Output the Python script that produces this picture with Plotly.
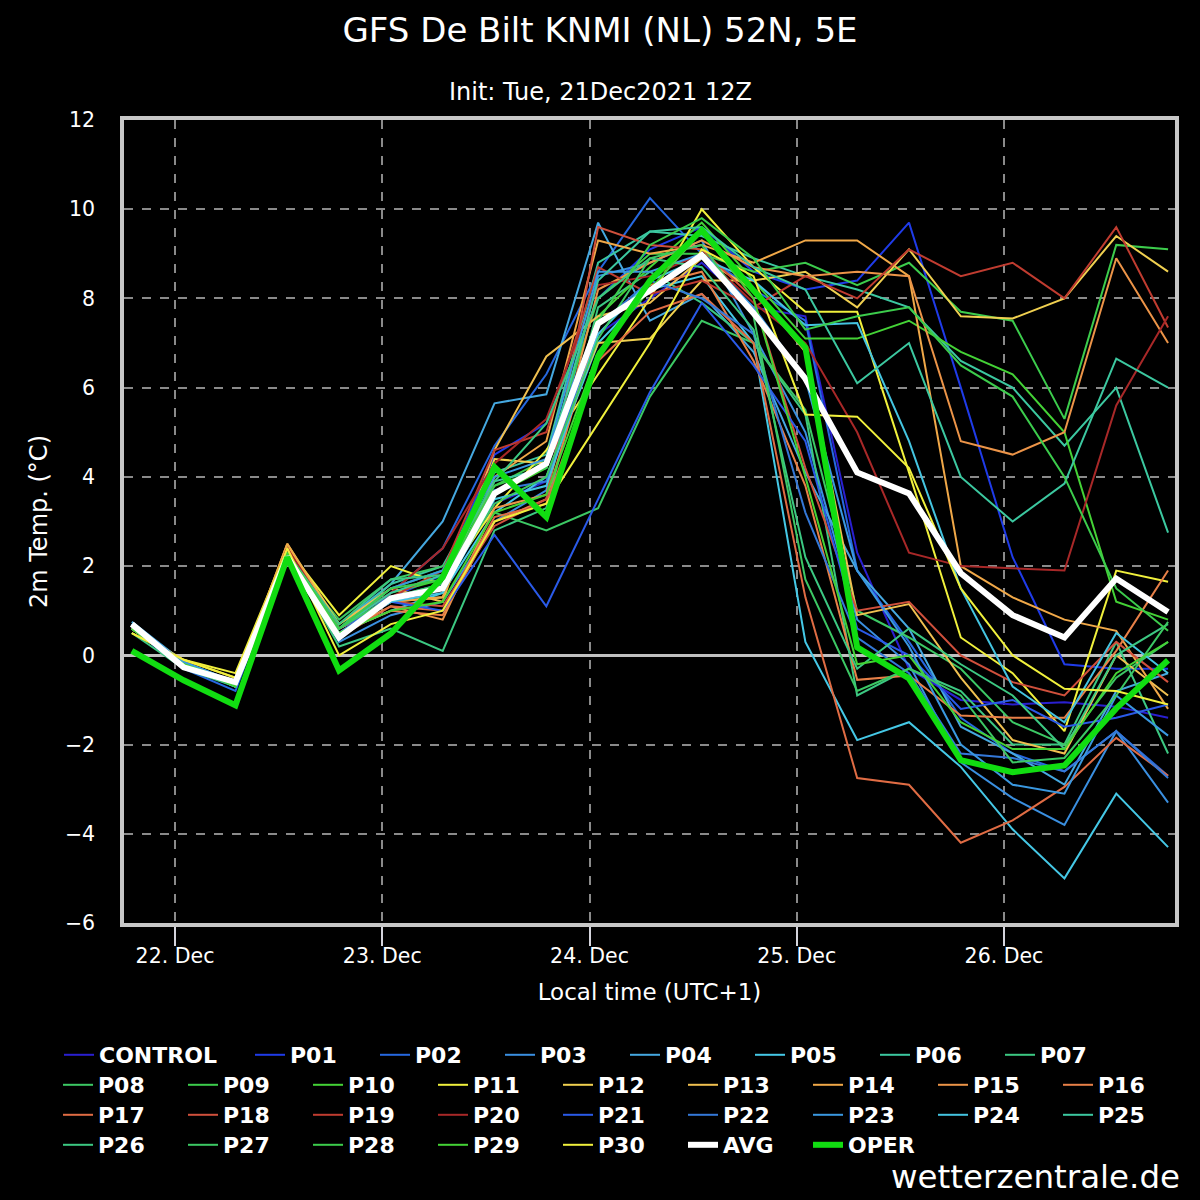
import plotly.graph_objects as go

# --- time axis (local time, UTC+1), 6-hourly ---
times = [
    "2021-12-21 19:00", "2021-12-22 01:00", "2021-12-22 07:00", "2021-12-22 13:00",
    "2021-12-22 19:00", "2021-12-23 01:00", "2021-12-23 07:00", "2021-12-23 13:00",
    "2021-12-23 19:00", "2021-12-24 01:00", "2021-12-24 07:00", "2021-12-24 13:00",
    "2021-12-24 19:00", "2021-12-25 01:00", "2021-12-25 07:00", "2021-12-25 13:00",
    "2021-12-25 19:00", "2021-12-26 01:00", "2021-12-26 07:00", "2021-12-26 13:00",
    "2021-12-26 19:00",
]

# --- ensemble members, 2m temperature (degC) ---
control = [0.7, -0.2, -0.7, 2.3, 0.5, 1.2, 1.5, 3.4, 3.9, 7.2, 8.0, 8.8, 7.8, 7.6, 2.3, -0.3, -1.0, -1.1, -1.05, -1.15, -1.4]
p01 = [0.7, -0.2, -0.6, 2.4, 0.6, 1.3, 1.8, 4.5, 5.2, 8.0, 9.1, 9.6, 8.6, 8.2, 8.4, 9.7, 6.0, 2.2, -0.2, -0.3, -0.3]
p02 = [0.6, -0.3, -0.8, 2.3, 0.4, 1.4, 2.4, 4.7, 6.3, 8.6, 10.25, 9.0, 8.2, 7.5, 1.9, 0.3, -1.4, -2.2, -2.6, -1.7, -2.7]
p03 = [0.7, -0.2, -0.7, 2.3, 0.3, 0.9, 1.2, 3.0, 3.7, 8.5, 8.8, 9.3, 7.2, 5.0, 0.8, -0.2, -2.4, -3.2, -3.8, -1.7, -3.3]
p04 = [0.75, -0.15, -0.6, 2.4, 0.7, 1.6, 3.0, 5.65, 5.85, 9.7, 7.5, 8.1, 6.8, 4.1, 1.9, 0.6, -1.6, -2.2, -2.9, -0.8, -0.4]
p05 = [0.6, -0.25, -0.7, 2.3, 0.5, 1.0, 1.4, 3.2, 4.0, 7.0, 8.2, 8.5, 7.0, 0.3, -1.9, -1.5, -2.5, -3.9, -5.0, -3.1, -4.3]
p06 = [0.6, -0.2, -0.6, 2.2, 0.6, 1.6, 2.0, 4.1, 4.5, 8.8, 9.5, 9.4, 8.9, 8.5, 8.2, 7.8, 6.6, 6.0, 4.7, 6.0, 2.75]
p07 = [0.5, -0.3, -0.7, 2.3, 0.2, 0.6, 0.1, 2.8, 3.3, 7.8, 8.6, 7.9, 7.0, 5.4, -0.9, -0.3, -0.8, -2.0, -2.0, 0.3, -2.2]
p08 = [0.6, -0.2, -0.6, 2.2, 0.8, 1.7, 2.0, 3.2, 2.8, 3.3, 5.8, 7.5, 7.0, 5.5, 1.0, 0.4, -0.3, -1.5, -2.0, -0.5, 0.3]
p09 = [0.6, -0.2, -0.7, 2.3, 0.6, 1.5, 1.9, 3.8, 4.4, 8.0, 9.0, 9.0, 8.6, 8.8, 8.3, 8.8, 7.7, 7.5, 5.3, 9.2, 9.1]
p10 = [0.65, -0.2, -0.6, 2.4, 0.7, 1.4, 1.7, 3.6, 4.2, 7.6, 8.7, 9.7, 8.4, 7.1, 7.1, 7.5, 6.8, 6.3, 5.0, 1.2, 0.8]
p11 = [0.5, -0.1, -0.4, 2.4, 0.9, 2.0, 1.6, 3.3, 4.6, 6.3, 8.0, 10.0, 8.7, 7.7, 7.7, 4.1, 0.4, -0.4, -1.7, 1.9, 1.65]
p12 = [0.6, -0.1, -0.5, 2.4, 0.6, 1.2, 1.3, 4.4, 4.3, 7.0, 7.1, 8.4, 8.4, 8.6, 7.8, 9.1, 7.6, 7.55, 8.0, 9.4, 8.6]
p13 = [0.6, -0.2, -0.6, 2.5, 0.7, 1.5, 1.2, 4.6, 6.7, 7.6, 7.9, 8.9, 8.2, 6.8, 0.9, 1.15, -0.5, -1.9, -2.2, 0.0, -0.9]
p14 = [0.6, -0.2, -0.6, 2.5, 0.6, 1.2, 1.3, 4.0, 4.8, 9.3, 9.0, 9.2, 8.8, 9.3, 9.3, 8.5, 2.0, 1.3, 0.8, 0.55, -1.2]
p15 = [0.6, -0.2, -0.6, 2.4, 0.5, 1.1, 0.8, 3.3, 3.6, 8.2, 8.8, 9.3, 8.7, 8.5, 8.6, 8.5, 4.8, 4.5, 5.0, 8.9, 7.0]
p16 = [0.6, -0.2, -0.6, 2.4, 0.5, 1.0, 0.9, 3.0, 3.5, 7.4, 8.3, 8.6, 6.6, 3.8, -0.55, -0.45, -1.35, -1.4, -1.4, 0.1, 1.9]
p17 = [0.6, -0.2, -0.6, 2.4, 0.4, 1.1, 1.0, 3.1, 3.4, 6.6, 7.7, 8.1, 7.0, 1.3, -2.75, -2.9, -4.2, -3.7, -2.95, -1.85, -2.7]
p18 = [0.6, -0.2, -0.6, 2.4, 0.5, 1.2, 1.1, 2.9, 3.5, 9.6, 9.2, 9.1, 8.0, 4.2, 1.0, 1.2, 0.0, -0.6, -0.9, 0.3, -0.6]
p19 = [0.6, -0.2, -0.6, 2.4, 0.5, 1.3, 1.9, 4.6, 5.0, 8.7, 8.1, 8.4, 7.8, 8.5, 8.0, 9.1, 8.5, 8.8, 8.0, 9.6, 7.35]
p20 = [0.6, -0.2, -0.6, 2.4, 0.6, 1.4, 2.4, 4.3, 5.3, 8.3, 8.5, 9.0, 7.9, 7.0, 5.0, 2.3, 2.0, 1.95, 1.9, 5.6, 7.6]
p21 = [0.7, -0.2, -0.7, 2.3, 0.6, 1.2, 1.0, 2.7, 1.1, 3.5, 5.9, 7.9, 6.5, 4.8, 0.6, 0.0, -1.2, -1.0, -1.6, -1.4, -1.1]
p22 = [0.7, -0.2, -0.7, 2.3, 0.5, 1.3, 1.6, 3.7, 3.9, 7.4, 8.4, 8.0, 7.2, 3.2, 0.4, -0.4, -2.2, -2.3, -2.6, -1.7, -2.75]
p23 = [0.7, -0.15, -0.6, 2.3, 0.6, 1.5, 1.9, 4.0, 4.4, 8.6, 8.6, 9.0, 7.8, 6.2, 1.9, 0.2, -2.0, -2.9, -3.1, -0.9, -1.8]
p24 = [0.7, -0.2, -0.7, 2.3, 0.5, 1.2, 1.4, 3.5, 3.8, 7.2, 8.4, 8.9, 8.4, 7.4, 7.45, 4.8, 1.5, -0.7, -1.5, 0.5, -0.4]
p25 = [0.6, -0.2, -0.6, 2.2, 0.6, 1.4, 1.8, 3.9, 4.2, 8.4, 9.5, 9.6, 8.7, 8.2, 6.1, 7.0, 4.0, 3.0, 3.85, 6.65, 6.0]
p26 = [0.6, -0.2, -0.6, 2.3, 0.7, 1.7, 1.8, 3.9, 5.2, 8.0, 8.9, 8.7, 7.3, 2.2, -0.3, 0.6, -0.2, -0.9, -2.1, 0.0, 0.7]
p27 = [0.6, -0.2, -0.6, 2.2, 0.6, 1.3, 1.6, 3.4, 4.0, 7.1, 8.9, 9.2, 7.6, 1.7, -0.8, -0.3, -0.9, -2.4, -2.3, -0.9, 0.75]
p28 = [0.6, -0.2, -0.6, 2.3, 0.6, 1.5, 1.7, 3.8, 4.2, 7.5, 9.2, 9.8, 8.9, 7.3, 7.6, 7.8, 6.5, 5.8, 4.0, 1.5, 0.55]
p29 = [0.6, -0.2, -0.7, 2.3, 0.5, 1.0, 1.2, 3.2, 3.6, 6.8, 8.2, 9.5, 8.0, 4.0, -0.2, 0.0, -1.5, -2.1, -2.1, -0.4, 0.3]
p30 = [0.5, -0.1, -0.5, 2.4, 0.0, 0.7, 1.0, 3.0, 3.4, 5.2, 7.0, 9.1, 8.5, 5.4, 5.35, 4.2, 1.5, 0.0, -0.75, -0.8, -1.1]

# --- ensemble mean and operational run ---
avg = [0.7, -0.27, -0.6, 2.2, 0.4, 1.28, 1.5, 3.63, 4.3, 7.44, 8.18, 8.97, 7.67, 6.2, 4.1, 3.63, 1.84, 0.9, 0.4, 1.72, 0.97]
oper = [0.1, -0.56, -1.12, 2.2, -0.34, 0.49, 1.75, 4.22, 3.1, 6.7, 8.4, 9.53, 8.18, 6.9, 0.18, -0.52, -2.35, -2.62, -2.47, -1.19, -0.11]

member_names = ["CONTROL"] + ["P%02d" % i for i in range(1, 31)]
members = [control, p01, p02, p03, p04, p05, p06, p07, p08, p09, p10,
           p11, p12, p13, p14, p15, p16, p17, p18, p19, p20,
           p21, p22, p23, p24, p25, p26, p27, p28, p29, p30]
member_colors = [
    "#2a1fd0", "#1f3be8", "#2668e0", "#3a8fe0", "#45a8e0", "#45c8e6", "#3cc8a0", "#3cc882",
    "#3cc864", "#3ccc4c", "#44d236", "#f0f03c", "#f0d050", "#f0c050", "#f0a848", "#ec9448",
    "#e88048", "#e06c44", "#d0503c", "#c03c30", "#a82828", "#2a5ae8", "#3478d8", "#3a98e0",
    "#44c4e0", "#3cc8a0", "#3cc882", "#3cc864", "#3ccc4c", "#44d236", "#f0f03c",
]

FONT = "DejaVu Sans, sans-serif"

# plot area in pixels (used to place the free text)
PL, PR, PT, PB = 124, 1175, 120, 923


def px_x(px):
    return (px - PL) / (PR - PL)


def px_y(py):
    return (PB - py) / (PB - PT)


# legend rows as in the original; long rows are split in two so plotly does not wrap them
# (legend id, first trace index, last trace index, x of first text, y of row)
legend_rows = [
    ("legend", 0, 0, 100, 1055),
    ("legend2", 1, 7, 291, 1055),
    ("legend3", 8, 12, 99, 1085),
    ("legend4", 13, 16, 724, 1085),
    ("legend5", 17, 21, 99, 1115),
    ("legend6", 22, 25, 724, 1115),
    ("legend7", 26, 32, 99, 1145),
]


def legend_for(i):
    for lid, a, b, _, _ in legend_rows:
        if a <= i <= b:
            return lid
    return "legend"


fig = go.Figure()

for i, (name, vals, col) in enumerate(zip(member_names, members, member_colors)):
    fig.add_trace(go.Scatter(
        x=times, y=vals, mode="lines", name=name,
        line=dict(color=col, width=2),
        legend=legend_for(i),
    ))

fig.add_trace(go.Scatter(x=times, y=avg, mode="lines", name="AVG",
                         line=dict(color="white", width=6), legend=legend_for(31)))
fig.add_trace(go.Scatter(x=times, y=oper, mode="lines", name="OPER",
                         line=dict(color="#11dd11", width=6), legend=legend_for(32)))


def row_legend(text_x, y_px, entry):
    return dict(
        orientation="h", x=(text_x - 41) / 1200, y=1 - y_px / 1200,
        xref="container", yref="container", xanchor="left", yanchor="middle",
        entrywidth=entry, entrywidthmode="pixels",
        font=dict(family=FONT, size=22, color="white", weight="bold"),
        bgcolor="rgba(0,0,0,0)", itemclick=False, itemdoubleclick=False,
    )


legends = {}
for lid, a, b, tx, ty in legend_rows:
    legends[lid] = row_legend(tx, ty, 150 if lid == "legend" else 80)

fig.update_layout(
    width=1200, height=1200,
    paper_bgcolor="black", plot_bgcolor="black",
    margin=dict(l=PL, r=1200 - PR, t=PT, b=1200 - PB, autoexpand=False),
    font=dict(family=FONT, color="white", size=20),
    title=dict(
        text="GFS De Bilt KNMI (NL) 52N, 5E",
        x=0.5, xanchor="center", y=1 - 30 / 1200, yanchor="middle",
        font=dict(family=FONT, size=34, color="white"),
    ),
    showlegend=True,
    **legends,
    xaxis=dict(
        type="date",
        range=["2021-12-21 18:05:38", "2021-12-26 19:48:11"],
        tickvals=["2021-12-22", "2021-12-23", "2021-12-24", "2021-12-25", "2021-12-26"],
        tickformat="%d. %b",
        ticks="outside", ticklen=19, tickwidth=2, tickcolor="#d4d4dc",
        ticklabelstandoff=-7,
        tickfont=dict(family=FONT, size=20.5, color="white"),
        showgrid=True, gridcolor="#8a8a8a", griddash="dash", gridwidth=1.5,
        showline=True, linecolor="#c8c8c8", linewidth=3.5, mirror=True,
        zeroline=False,
        title=dict(text="Local time (UTC+1)", font=dict(family=FONT, size=23, color="white"),
                   standoff=18),
    ),
    yaxis=dict(
        range=[-6, 12], dtick=2, tick0=0,
        ticks="outside", ticklen=21, tickcolor="rgba(0,0,0,0)",
        tickfont=dict(family=FONT, size=20.5, color="white"),
        showgrid=True, gridcolor="#8a8a8a", griddash="dash", gridwidth=1.5,
        showline=True, linecolor="#c8c8c8", linewidth=3.5, mirror=True,
        zeroline=True, zerolinecolor="#c0c0c0", zerolinewidth=3,
        title=dict(text="2m Temp. (°C)", font=dict(family=FONT, size=24, color="white"),
                   standoff=12),
    ),
    annotations=[
        dict(text="Init: Tue, 21Dec2021 12Z", xref="paper", yref="paper",
             x=px_x(600), y=px_y(92), xanchor="center", yanchor="middle", showarrow=False,
             font=dict(family=FONT, size=24, color="white")),
        dict(text="wetterzentrale.de", xref="paper", yref="paper",
             x=px_x(1182), y=px_y(1177), xanchor="right", yanchor="middle", showarrow=False,
             font=dict(family=FONT, size=32.5, color="white")),
    ],
)

# the page itself: no body margin, black behind the figure, no mode bar
fig.write_html(
    "out.html",
    config={"displayModeBar": False},
    post_script="document.body.style.margin='0';document.body.style.background='black';",
)
